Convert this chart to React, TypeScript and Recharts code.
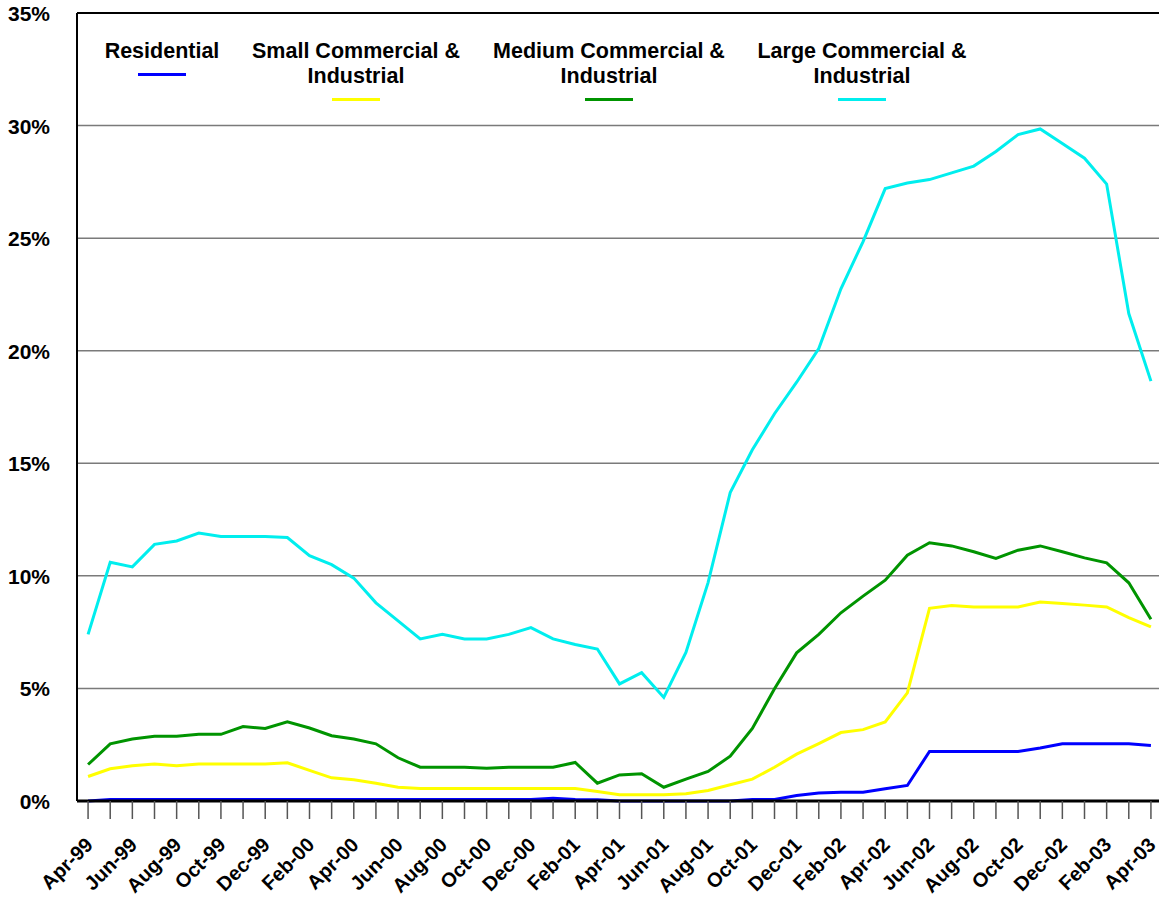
import React from 'react';
import {
  LineChart,
  Line,
  XAxis,
  YAxis,
  CartesianGrid,
  Legend,
  ReferenceLine,
} from 'recharts';

const months = [
  'Apr-99', 'May-99', 'Jun-99', 'Jul-99', 'Aug-99', 'Sep-99', 'Oct-99', 'Nov-99', 'Dec-99',
  'Jan-00', 'Feb-00', 'Mar-00', 'Apr-00', 'May-00', 'Jun-00', 'Jul-00', 'Aug-00', 'Sep-00',
  'Oct-00', 'Nov-00', 'Dec-00', 'Jan-01', 'Feb-01', 'Mar-01', 'Apr-01', 'May-01', 'Jun-01',
  'Jul-01', 'Aug-01', 'Sep-01', 'Oct-01', 'Nov-01', 'Dec-01', 'Jan-02', 'Feb-02', 'Mar-02',
  'Apr-02', 'May-02', 'Jun-02', 'Jul-02', 'Aug-02', 'Sep-02', 'Oct-02', 'Nov-02', 'Dec-02',
  'Jan-03', 'Feb-03', 'Mar-03', 'Apr-03',
];

const residential = [
  0, 0.07, 0.07, 0.07, 0.07, 0.07, 0.07, 0.07, 0.07, 0.07, 0.07, 0.07, 0.07, 0.07, 0.07,
  0.07, 0.07, 0.07, 0.07, 0.07, 0.07, 0.12, 0.07, 0.05, 0, 0, 0, 0, 0, 0, 0.07, 0.07, 0.24,
  0.35, 0.39, 0.39, 0.54, 0.69, 2.2, 2.2, 2.2, 2.2, 2.2, 2.35, 2.54, 2.54, 2.54, 2.54, 2.47,
];

const smallCI = [
  1.09, 1.43, 1.57, 1.64, 1.57, 1.64, 1.64, 1.64, 1.64, 1.7, 1.36, 1.03, 0.94, 0.79, 0.61,
  0.56, 0.56, 0.55, 0.55, 0.55, 0.55, 0.55, 0.55, 0.42, 0.28, 0.28, 0.28, 0.32, 0.47, 0.72,
  0.97, 1.5, 2.08, 2.55, 3.04, 3.17, 3.51, 4.8, 8.56, 8.68, 8.62, 8.62, 8.62, 8.84, 8.77,
  8.7, 8.62, 8.15, 7.73,
];

const mediumCI = [
  1.62, 2.54, 2.75, 2.88, 2.88, 2.96, 2.96, 3.31, 3.22, 3.52, 3.24, 2.9, 2.75, 2.54, 1.92,
  1.5, 1.5, 1.5, 1.45, 1.5, 1.5, 1.5, 1.71, 0.79, 1.16, 1.21, 0.61, 0.97, 1.31, 1.99, 3.22,
  4.99, 6.58, 7.4, 8.36, 9.1, 9.81, 10.92, 11.47, 11.33, 11.07, 10.77, 11.14, 11.33, 11.07,
  10.8, 10.58, 9.69, 8.07,
];

const largeCI = [
  7.4, 10.6, 10.4, 11.4, 11.55, 11.9, 11.75, 11.75, 11.75, 11.7, 10.9, 10.5, 9.9, 8.8, 8.0,
  7.2, 7.4, 7.2, 7.2, 7.4, 7.7, 7.2, 6.95, 6.75, 5.2, 5.7, 4.6, 6.6, 9.7, 13.7, 15.6, 17.2,
  18.6, 20.1, 22.75, 24.85, 27.2, 27.45, 27.6, 27.9, 28.2, 28.85, 29.6, 29.85, 29.2, 28.55,
  27.4, 21.65, 18.65,
];

const yTicks = [0, 5, 10, 15, 20, 25, 30, 35];

const data = months.map((month, i) => ({
  month,
  residential: residential[i],
  small: smallCI[i],
  medium: mediumCI[i],
  large: largeCI[i],
}));

// legend order, with where each label sits over the plot
const SERIES = [
  { key: 'residential', name: 'Residential', color: '#0000ff', cx: 162, rows: 1 },
  { key: 'small', name: 'Small Commercial &\nIndustrial', color: '#ffff00', cx: 356, rows: 2 },
  { key: 'medium', name: 'Medium Commercial &\nIndustrial', color: '#009400', cx: 609, rows: 2 },
  { key: 'large', name: 'Large Commercial &\nIndustrial', color: '#00eeee', cx: 862, rows: 2 },
];

const FONT = '"Liberation Sans", Arial, sans-serif';

const YTick = ({ y, payload }: any) => (
  <text
    x={50}
    y={y + 8}
    textAnchor='end'
    fontFamily={FONT}
    fontWeight='bold'
    fontSize={21}
    fill='#000'
  >
    {`${payload.value}%`}
  </text>
);

const XTick = ({ x, y, payload, index }: any) => {
  if (index % 2 !== 0) return null;
  const tx = x + 6;
  const ty = y + 25;
  return (
    <text
      x={tx}
      y={ty}
      textAnchor='end'
      transform={`rotate(-45, ${tx}, ${ty})`}
      fontFamily={FONT}
      fontWeight='bold'
      fontSize={20}
      fill='#000'
    >
      {payload.value}
    </text>
  );
};

const LegendBox = () => (
  <div style={{ position: 'relative', width: 1159, height: 120, fontFamily: FONT }}>
    {SERIES.map((s) => (
      <React.Fragment key={s.key}>
        <div
          style={{
            position: 'absolute',
            left: s.cx - 150,
            top: 39,
            width: 300,
            textAlign: 'center',
            whiteSpace: 'pre-line',
            fontWeight: 'bold',
            fontSize: 21.5,
            lineHeight: '25px',
            color: '#000',
          }}
        >
          {s.name}
        </div>
        <div
          style={{
            position: 'absolute',
            left: s.cx - 24,
            top: 73 + (s.rows - 1) * 25,
            width: 48,
            height: 3,
            background: s.color,
          }}
        />
      </React.Fragment>
    ))}
  </div>
);

export default function App() {
  return (
    <div
      style={{
        position: 'absolute',
        left: 0,
        top: 0,
        width: 1159,
        height: 898,
        overflow: 'hidden',
        background: '#fff',
      }}
    >
      <LineChart
        width={1162}
        height={898}
        data={data}
        margin={{ top: 13, right: 0, bottom: 0, left: 0 }}
      >
        <CartesianGrid horizontal vertical={false} stroke='#7a7a7a' strokeWidth={1.5} />
        <ReferenceLine y={35} stroke='#000' strokeWidth={2} />
        <XAxis
          dataKey='month'
          scale='band'
          interval={0}
          height={97}
          tick={<XTick />}
          tickSize={18}
          tickLine={{ stroke: '#555', strokeWidth: 1.5 }}
          axisLine={{ stroke: '#000', strokeWidth: 3 }}
        />
        <YAxis
          width={77}
          domain={[0, 35]}
          ticks={yTicks}
          tick={<YTick />}
          tickLine={false}
          axisLine={{ stroke: '#000', strokeWidth: 2 }}
        />
        <Legend
          verticalAlign='middle'
          align='center'
          layout='horizontal'
          wrapperStyle={{ top: 0, left: 0, width: 1159, height: 120 }}
          content={() => <LegendBox />}
        />
        {[...SERIES].reverse().map((s) => (
          <Line
            key={s.key}
            type='linear'
            dataKey={s.key}
            name={s.name}
            stroke={s.color}
            strokeWidth={3}
            dot={false}
            activeDot={false}
            isAnimationActive={false}
          />
        ))}
      </LineChart>
    </div>
  );
}
